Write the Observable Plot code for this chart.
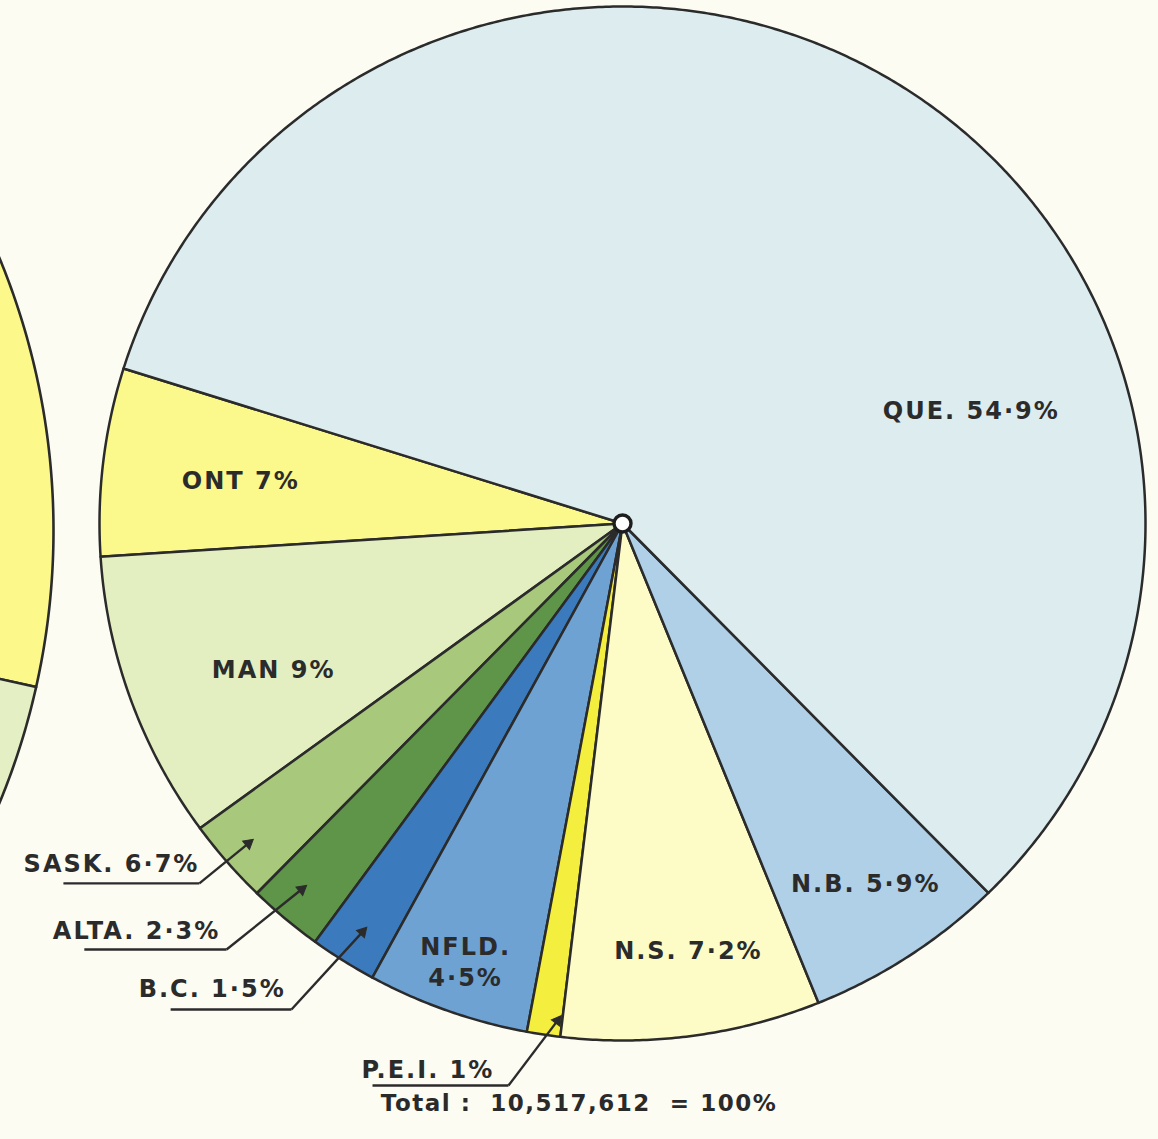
<!DOCTYPE html>
<html>
<head>
<meta charset="utf-8">
<script src="https://cdn.jsdelivr.net/npm/d3@7"></script>
<script src="https://cdn.jsdelivr.net/npm/@observablehq/plot@0.6"></script>
<style>
  html, body { margin: 0; padding: 0; background: #fdfcf3; overflow: hidden; }
  #chart svg text { letter-spacing: 2px; }
  #caption {
    width: 1158px; height: 26px; line-height: 26px; text-align: center; margin-top: 0px;
    font-family: "DejaVu Sans", sans-serif; font-weight: bold; font-size: 23px;
    letter-spacing: 1.5px; color: #2a2a2a; white-space: pre;
  }
</style>
</head>
<body>
<div id="chart"></div>
<div id="caption"></div>
<script>
// ---------------- DATA ----------------
// Provinces in drawing order (counter-clockwise from the QUE/ONT border)
const provinces = ["ONT", "MAN", "SASK.", "ALTA.", "B.C.", "NFLD.", "P.E.I.", "N.S.", "N.B.", "QUE."];
// Percentages as printed on the chart
const percentLabels = ["7%", "9%", "6·7%", "2·3%", "1·5%", "4·5%", "1%", "7·2%", "5·9%", "54·9%"];
// Sector sizes as actually drawn in the picture (% of the full circle)
const drawnShare = [5.87, 9.01, 2.65, 2.32, 2.06, 5.01, 1.03, 8.01, 6.22, 57.82];
const sliceColors = ["#fbf88c", "#e3efc0", "#a8c87c", "#5f9548", "#3b7bbd", "#6ea2d3", "#f4ee3e", "#fdfbc6", "#afd0e6", "#dcecef"];
const totalText = "Total :  10,517,612  = 100%";

// Neighbouring pie, cropped at the left edge of the picture
const leftNames = ["left-yellow", "left-green"];
const leftShare = [30, 70];
const leftColors = ["#fcf98a", "#e4efc3"];

// ---------------- LAYOUT ----------------
const W = 1158, H = 1090;
const CX = 622, CY = 523, RX = 523, RY = 517;       // main pie centre / radii in px
const mainStartAngle = 162.55;                       // degrees, counter-clockwise from east
const leftPie = {cx: -661, cy: 530, r: 714, start: -12.67};

// label positions in pie units (radius = 1)
const insideLabels = [
  {i: 9, u: 0.667, v: 0.221},
  {i: 0, u: -0.730, v: 0.087},
  {i: 1, u: -0.667, v: -0.279},
  {i: 8, u: 0.465, v: -0.694},
  {i: 7, u: 0.126, v: -0.824},
  {i: 5, u: -0.300, v: -0.845, twoLines: true}
];
const outsideLabels = [
  {i: 2, tu: -0.809, tv: -0.660, u0: -1.069, u1: -0.809, lv: -0.696, au: -0.706, av: -0.611},
  {i: 3, tu: -0.769, tv: -0.789, u0: -1.029, u1: -0.757, lv: -0.824, au: -0.604, av: -0.700},
  {i: 4, tu: -0.644, tv: -0.901, u0: -0.864, u1: -0.633, lv: -0.940, au: -0.489, av: -0.781},
  {i: 6, tu: -0.245, tv: -1.058, u0: -0.478, u1: -0.218, lv: -1.087, au: -0.117, av: -0.952}
];

// ---------------- GEOMETRY FROM DATA ----------------
function sector(name, a0, a1, cu, cv, ru, rv) {
  const pts = [{name, u: cu, v: cv}];
  const n = Math.max(2, Math.ceil(Math.abs(a1 - a0) / 0.4));
  for (let k = 0; k <= n; k++) {
    const a = (a0 + (a1 - a0) * k / n) * Math.PI / 180;
    pts.push({name, u: cu + ru * Math.cos(a), v: cv + rv * Math.sin(a)});
  }
  pts.push({name, u: cu, v: cv});
  return pts;
}

const mainPts = [];
{
  let a = mainStartAngle;
  provinces.forEach((p, i) => {
    const span = drawnShare[i] * 3.6;
    mainPts.push(...sector(p, a, a + span, 0, 0, 1, 1));
    a += span;
  });
}
const leftPts = [];
{
  const cu = (leftPie.cx - CX) / RX, cv = (CY - leftPie.cy) / RY;
  const ru = leftPie.r / RX, rv = leftPie.r / RY;
  let a = leftPie.start;
  leftNames.forEach((n, i) => {
    const span = leftShare[i] * 3.6;
    leftPts.push(...sector(n, a, a + span, cu, cv, ru, rv));
    a += span;
  });
}

const inside = insideLabels.map(d => ({
  ...d,
  text: d.twoLines ? provinces[d.i] + "\n" + percentLabels[d.i] : provinces[d.i] + " " + percentLabels[d.i]
}));
// arrowhead: filled triangle placed just behind the tip, rotated along the leader
const headBack = 6.2; // px from centroid to apex
const outside = outsideLabels.map(d => {
  const sx = (d.au - d.u1) * RX, sy = -(d.av - d.lv) * RY; // screen vector
  const len = Math.hypot(sx, sy);
  return {
    ...d,
    text: provinces[d.i] + " " + percentLabels[d.i],
    rot: Math.atan2(sx, -sy) * 180 / Math.PI,
    hu: d.au - (sx / len) * headBack / RX,
    hv: d.av + (sy / len) * headBack / RY
  };
});

const font = "DejaVu Sans, sans-serif";
const ink = "#2b2b2b";

const chart = Plot.plot({
  width: W, height: H, margin: 0,
  x: {domain: [-CX / RX, (W - CX) / RX], axis: null},
  y: {domain: [(CY - H) / RY, CY / RY], axis: null},
  color: {domain: [...provinces, ...leftNames], range: [...sliceColors, ...leftColors]},
  style: {background: "transparent", overflow: "hidden"},
  marks: [
    Plot.line(leftPts, {x: "u", y: "v", z: "name", fill: "name", stroke: ink, strokeWidth: 2.6, clip: true, curve: "linear"}),
    Plot.line(mainPts, {x: "u", y: "v", z: "name", fill: "name", stroke: ink, strokeWidth: 2.5, curve: "linear", strokeLinejoin: "round"}),
    Plot.dot([{u: 0, v: 0}], {x: "u", y: "v", r: 8.5, fill: "white", stroke: "#1e1e1e", strokeWidth: 3.4}),
    Plot.text(inside, {x: "u", y: "v", text: "text", fontSize: 24, fontWeight: "bold", fontFamily: font, fill: ink, lineHeight: 1.3}),
    Plot.link(outside, {x1: "u0", y1: "lv", x2: "u1", y2: "lv", stroke: ink, strokeWidth: 2.4}),
    Plot.link(outside, {x1: "u1", y1: "lv", x2: "hu", y2: "hv", stroke: ink, strokeWidth: 2.4}),
    Plot.dot(outside, {x: "hu", y: "hv", symbol: "triangle", r: 4, rotate: "rot", fill: ink, stroke: ink, strokeWidth: 1}),
    Plot.text(outside, {x: "tu", y: "tv", text: "text", textAnchor: "end", fontSize: 24, fontWeight: "bold", fontFamily: font, fill: ink})
  ]
});
document.getElementById("chart").appendChild(chart);
document.getElementById("caption").textContent = totalText;
</script>
</body>
</html>
